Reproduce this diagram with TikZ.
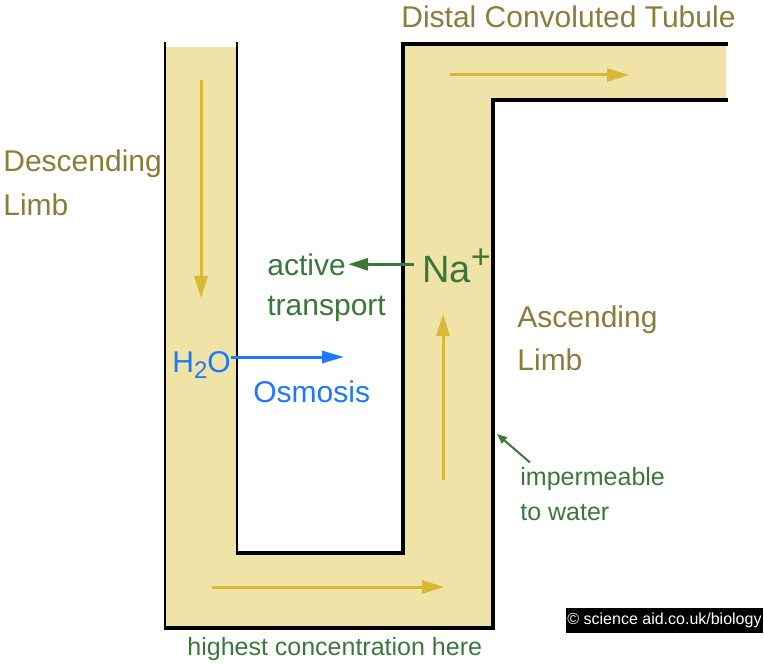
\documentclass[tikz,border=0pt]{standalone}
\usepackage{fontspec}
\setmainfont{Liberation Sans}
\usetikzlibrary{arrows.meta, positioning, calc}
\definecolor{cTube}{RGB}{239,227,168}
\definecolor{cFlow}{RGB}{216,184,52}
\definecolor{cOlive}{RGB}{140,124,60}
\definecolor{cGreen}{RGB}{58,120,58}
\definecolor{cBlue}{RGB}{30,120,255}
\tikzset{
	wallthin/.style ={line width=1.4pt, black},
	wallthick/.style={line width=2pt, black, line join=miter},
	flowarrow/.style={-{Triangle[length=11pt, width=6.5pt]}, line width=1.5pt, cFlow},
	% labels
	partlbl/.style  ={anchor=base west, inner sep=0pt, text=cOlive, font=\fontsize{15}{18}\selectfont},
	grnlbl/.style   ={anchor=base west, inner sep=0pt, text=cGreen, font=\fontsize{15}{18}\selectfont},
	ionlbl/.style   ={anchor=base west, inner sep=0pt, text=cGreen, font=\fontsize{19}{22}\selectfont},
	blulbl/.style   ={anchor=base west, inner sep=0pt, text=cBlue, font=\fontsize{15}{18}\selectfont},
	h2olbl/.style   ={anchor=base west, inner sep=0pt, text=cBlue, font=\fontsize{15}{18}\selectfont},
	notelbl/.style  ={anchor=base west, inner sep=0pt, text=cGreen, font=\fontsize{12.5}{15}\selectfont},
	% transport arrows
	grnarrow/.style ={-{Triangle[length=10pt, width=6pt]}, line width=1.5pt, cGreen},
	bluarrow/.style ={-{Triangle[length=11pt, width=6pt]}, line width=1.5pt, cBlue},
	notearrow/.style={-{Triangle[length=5pt, width=4pt]}, line width=1pt, cGreen},
}
\begin{document}
\begin{tikzpicture}[x=0.5pt, y=-0.5pt]
	\useasboundingbox (0,0) rectangle (764,668);
	% lumen of the loop
	\fill[cTube] (165,47) -- (165,628) -- (493,628) -- (493,100) -- (726,100) -- (726,44)
		-- (403,44) -- (403,553) -- (237,553) -- (237,47) -- cycle;
	% walls
	\draw[wallthin] (165,42) -- (165,629);
	\draw[wallthin] (237,42) -- (237,554);
	\draw[wallthick] (164.3,628) -- (493,628) -- (493,100) -- (728,100);
	\draw[wallthick] (236.3,553) -- (403,553) -- (403,44) -- (728,44);
	% flow of filtrate
	\coordinate (dTop) at (201,80);
	\coordinate (dBot) at (201,298);
	\coordinate (bL) at (212,587);
	\coordinate (bR) at (444,587);
	\coordinate (aBot) at (443,480);
	\coordinate (aTop) at (443,314);
	\coordinate (tL) at (450,75);
	\coordinate (tR) at (629,75);
	\draw[flowarrow] (dTop) -- (dBot);
	\draw[flowarrow] (bL) -- (bR);
	\draw[flowarrow] (aBot) -- (aTop);
	\draw[flowarrow] (tL) -- (tR);
	% part names
	\node[partlbl] (dct) at (401,28) {Distal Convoluted Tubule};
	\node[partlbl] (desc) at (3,171) {Descending};
	\node[partlbl] (descL) at (3,215) {Limb};
	\node[partlbl] (asc) at (517,327) {Ascending};
	\node[partlbl] (ascL) at (517,370) {Limb};
	% sodium pumped out
	\node[ionlbl] (na) at (422,282) {Na\raisebox{7pt}{\fontsize{17}{18}\selectfont +}};
	\node[grnlbl] (act) at (267,275) {active};
	\node[grnlbl] (trans) at (267,315) {transport};
	\draw[grnarrow] ([xshift=-4pt]na.west |- act.east) -- ([xshift=1pt]act.east);
	% water leaves by osmosis
	\node[h2olbl] (h2o) at (172,372) {H\raisebox{-3pt}{\fontsize{12}{12}\selectfont 2}O};
	\coordinate (osm) at (344,357);
	\draw[bluarrow] (h2o.east |- osm) -- (osm);
	\node[blulbl] (osmo) at (253,402) {Osmosis};
	% notes
	\node[notelbl] (imp) at (520,485) {impermeable};
	\node[notelbl] (tow) at (520,520) {to water};
	\coordinate (wall) at (497,434);
	\draw[notearrow] ($(imp.north west)+(10,-4)$) -- (wall);
	\node[notelbl] (high) at (187,655) {highest concentration here};
	\node[fill=black, text=white, font=\fontsize{8}{9.6}\selectfont, minimum width=98.5pt,
		minimum height=12.5pt, inner sep=0pt] (credit) at (664.5,620.5) {© science aid.co.uk/biology};
\end{tikzpicture}
\end{document}
